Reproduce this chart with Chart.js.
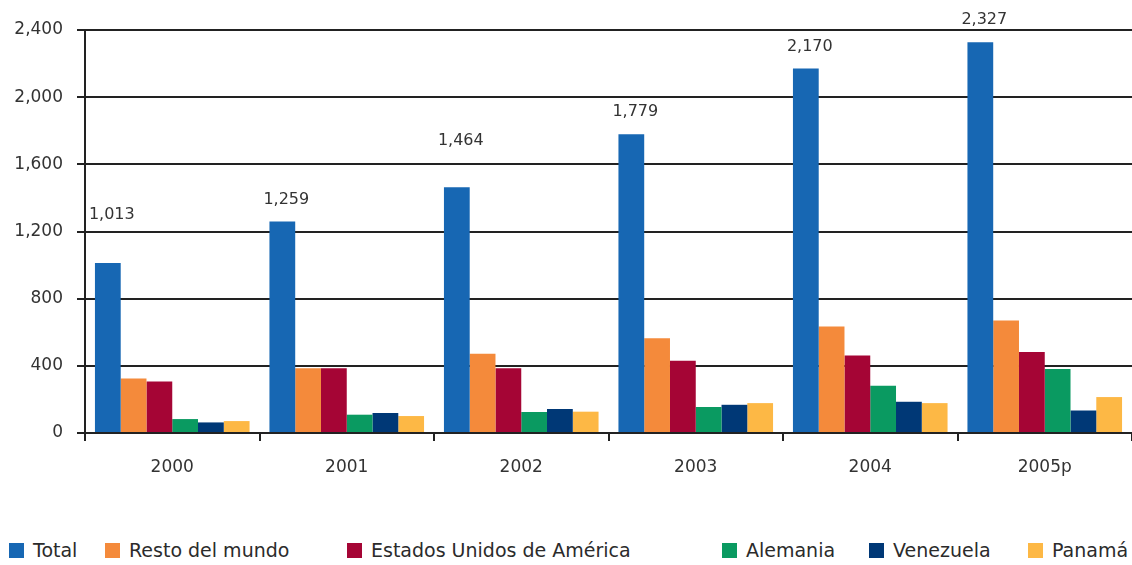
<!DOCTYPE html>
<html>
<head>
<meta charset="utf-8">
<script src="https://cdn.jsdelivr.net/npm/chart.js@4.4.1/dist/chart.umd.min.js"></script>
<style>
  html, body { margin: 0; padding: 0; background: #fff; }
  body { width: 1132px; height: 565px; position: relative; overflow: hidden; font-family: "DejaVu Sans", sans-serif; }
  #wrap { position: absolute; left: 0; top: 0; width: 1132px; height: 500px; }
  #legend { position: absolute; left: 0; top: 538px; width: 1132px; height: 24px; }
  .lg-item { position: absolute; top: 0; height: 24px; display: flex; align-items: center; font-size: 19px; color: #2b2b2b; white-space: nowrap; }
  .lg-box { width: 15px; height: 15px; margin-right: 9px; }
</style>
</head>
<body>
<div id="wrap"><canvas id="chart"></canvas></div>
<div id="legend"></div>
<script>
// --- Data ---
const years = ['2000', '2001', '2002', '2003', '2004', '2005p'];
const seriesNames = ['Total', 'Resto del mundo', 'Estados Unidos de América', 'Alemania', 'Venezuela', 'Panamá'];
const total      = [1013, 1259, 1464, 1779, 2170, 2327];
const restoMundo = [325, 385, 472, 565, 634, 670];
const eeuu       = [307, 385, 385, 430, 462, 482];
const alemania   = [83, 109, 125, 155, 281, 381];
const venezuela  = [63, 119, 143, 168, 186, 134];
const panama     = [71, 101, 127, 178, 178, 214];
const yTicks = [0, 400, 800, 1200, 1600, 2000, 2400];

// --- Style ---
const FONT = '"DejaVu Sans", sans-serif';
const colors = ['#1767b3', '#f48a3b', '#a50535', '#0a9a61', '#003876', '#fdb845'];
const legendX = [9, 105, 347, 722, 869, 1028];    // legend item left edges
const labelLift = [26, 0, 24, 0, 0, 0];           // extra lift for some total labels

const seriesValues = [total, restoMundo, eeuu, alemania, venezuela, panama];

const fmt = v => v.toLocaleString('en-US');

// value labels above the Total bars
const totalLabels = {
  id: 'totalLabels',
  afterDatasetsDraw(chart) {
    const ctx = chart.ctx;
    const meta = chart.getDatasetMeta(0);
    ctx.save();
    ctx.font = '16px ' + FONT;
    ctx.fillStyle = '#333';
    ctx.textAlign = 'center';
    ctx.textBaseline = 'bottom';
    meta.data.forEach((bar, i) => {
      ctx.fillText(fmt(total[i]), bar.x + 4, bar.y - 14 - labelLift[i]);
    });
    ctx.restore();
  }
};

new Chart(document.getElementById('chart'), {
  type: 'bar',
  data: {
    labels: years,
    datasets: seriesNames.map((name, i) => ({
      label: name,
      data: seriesValues[i],
      backgroundColor: colors[i],
      borderWidth: 0,
      barPercentage: 1.0,
      categoryPercentage: 0.886
    }))
  },
  options: {
    responsive: true,
    maintainAspectRatio: false,
    animation: false,
    layout: { padding: { top: 30, right: 0, left: 0, bottom: 0 } },
    plugins: { legend: { display: false }, tooltip: { enabled: false } },
    scales: {
      x: {
        offset: true,
        afterFit: s => { s.height = 67; },
        grid: { display: true, drawOnChartArea: false, offset: true, tickLength: 8, color: '#222', lineWidth: 2 },
        border: { color: '#222', width: 2 },
        ticks: { color: '#333', font: { size: 17, family: FONT }, padding: 16 }
      },
      y: {
        min: 0, max: 2400,
        afterFit: s => { s.width = 85; },
        afterBuildTicks: s => { s.ticks = yTicks.map(v => ({ value: v })); },
        grid: { color: '#222', lineWidth: 2, tickLength: 8 },
        border: { color: '#222', width: 2 },
        ticks: {
          color: '#333', padding: 14,
          font: { size: 17, family: FONT },
          callback: v => fmt(v)
        }
      }
    }
  },
  plugins: [totalLabels]
});

// HTML legend
const legend = document.getElementById('legend');
seriesNames.forEach((name, i) => {
  const item = document.createElement('div');
  item.className = 'lg-item';
  item.style.left = legendX[i] + 'px';
  item.innerHTML = `<span class="lg-box" style="background:${colors[i]}"></span><span>${name}</span>`;
  legend.appendChild(item);
});
</script>
</body>
</html>
